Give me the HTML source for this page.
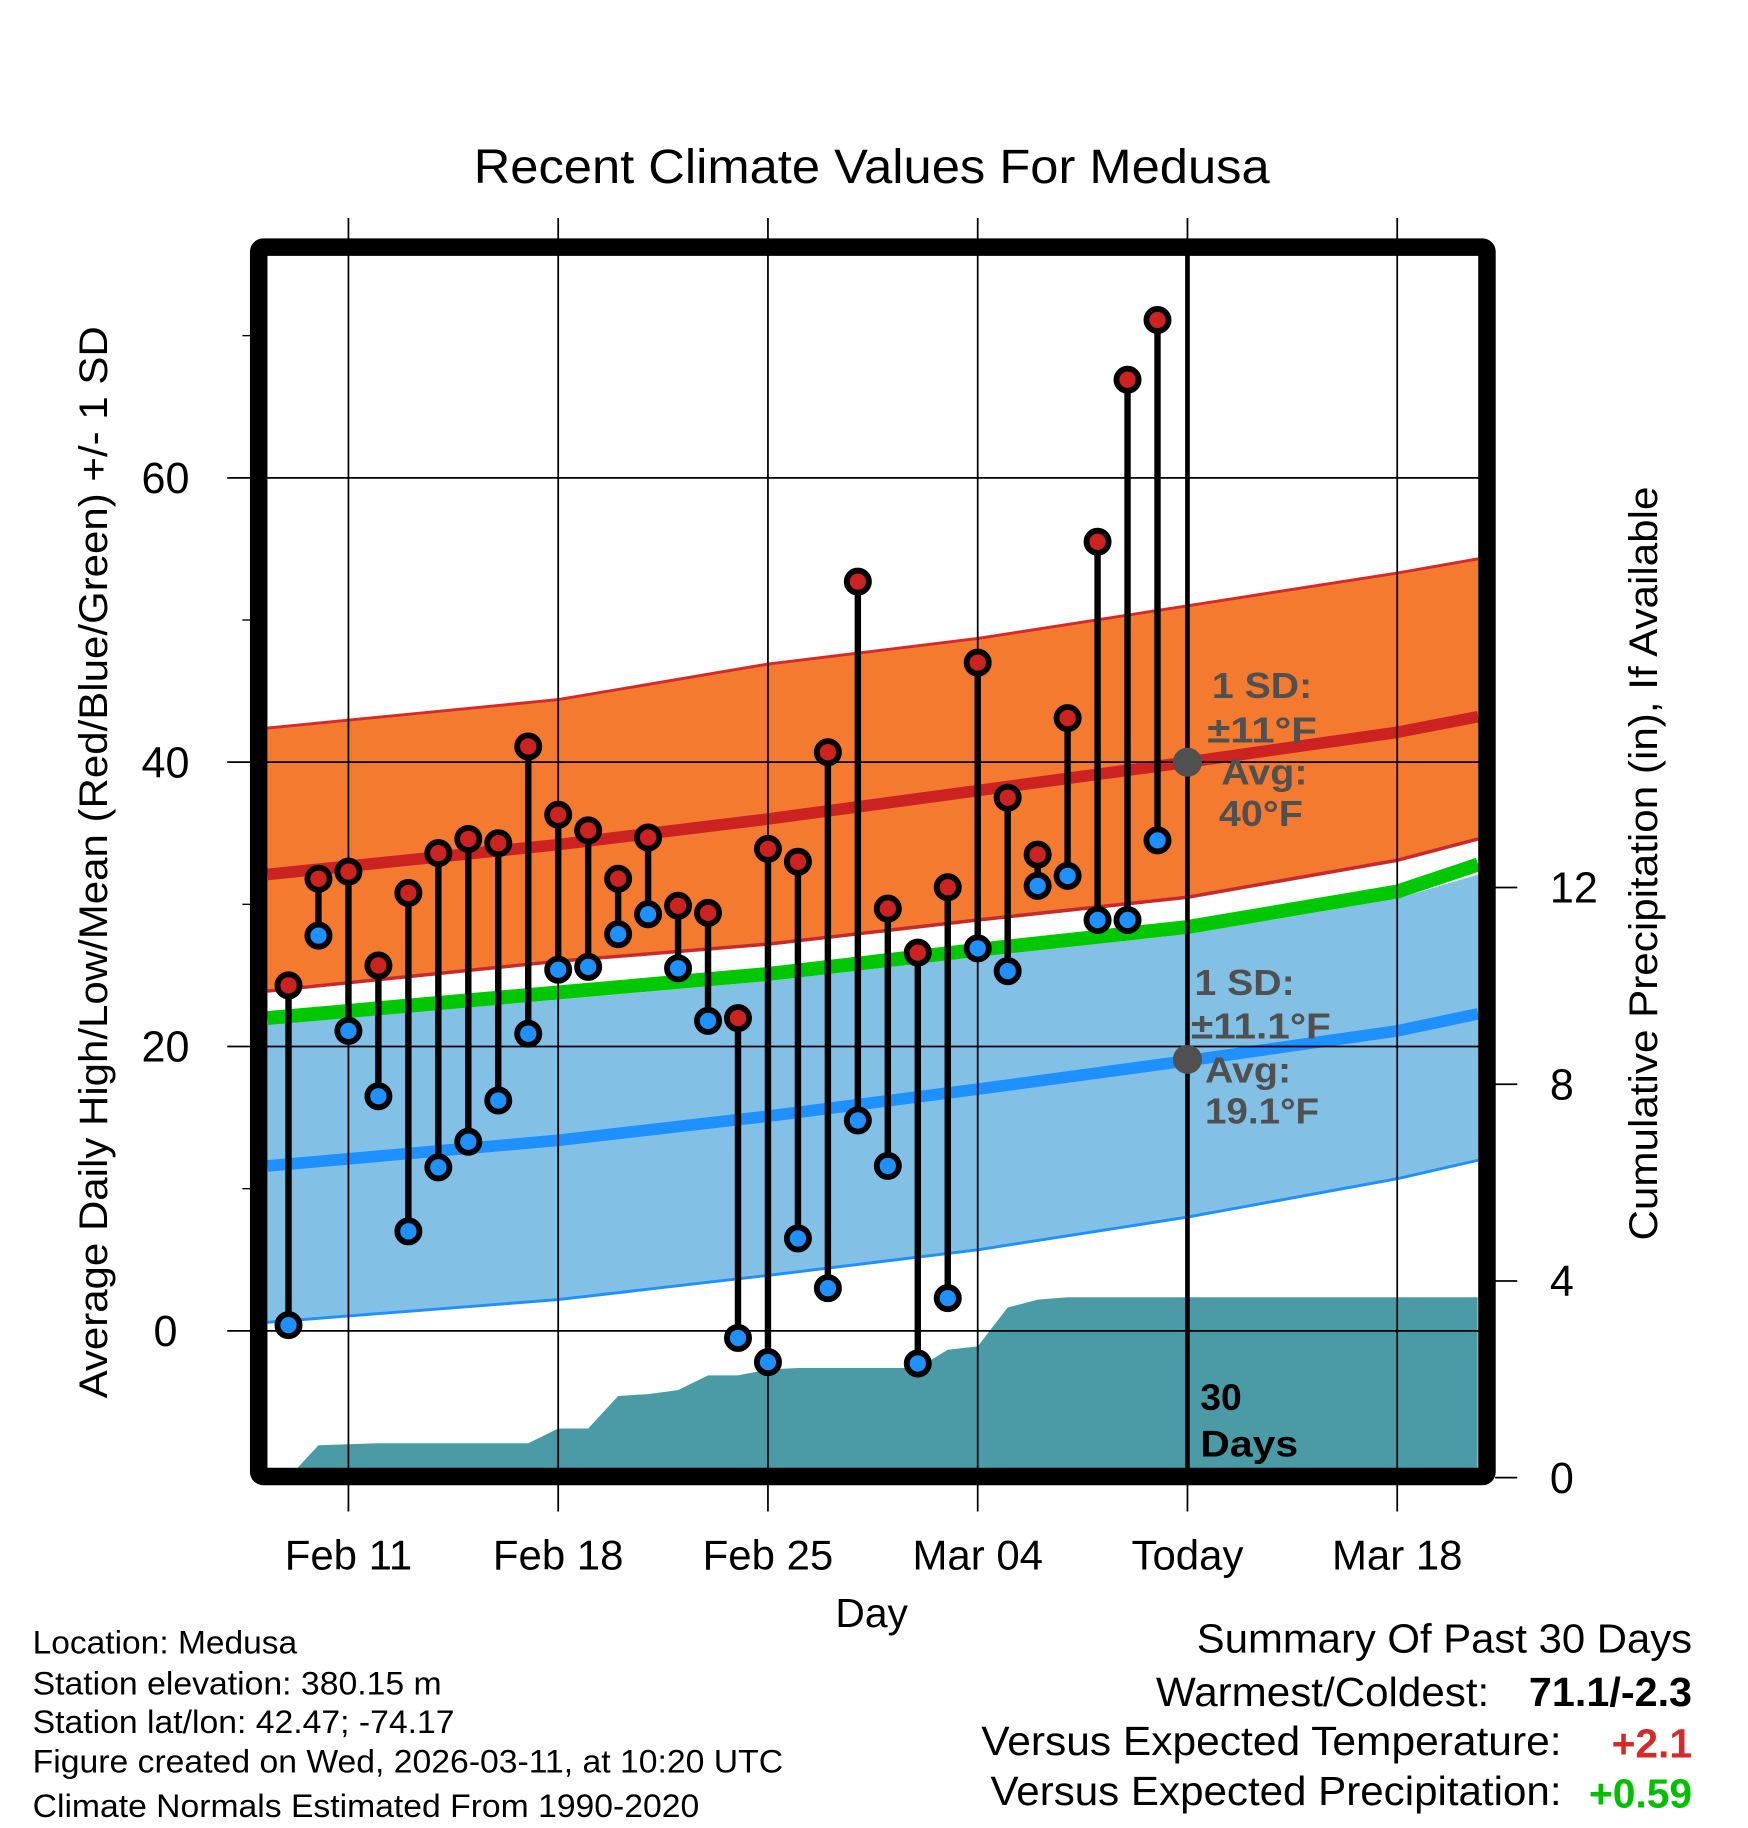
<!DOCTYPE html>
<html><head><meta charset="utf-8"><style>
html,body{margin:0;padding:0;background:#fff;}
svg{display:block;font-family:"Liberation Sans",sans-serif;}
</style></head><body>
<svg id="chart" width="1748" height="1828" viewBox="0 0 1500 1568.6" xmlns="http://www.w3.org/2000/svg">
<rect width="1500" height="1568.6" fill="#fff"/>
<text x="748" y="157" font-size="41" text-anchor="middle" textLength="683" lengthAdjust="spacingAndGlyphs">Recent Climate Values For Medusa</text>
<g id="bands"></g>
<g id="precip"></g>
<g id="grid"></g>
<g id="marks"></g>
<g id="annot"></g>
<g id="frame"></g>
<g id="axes"></g>
<text x="748" y="1396" font-size="35" text-anchor="middle">Day</text>
<text transform="translate(92,740) rotate(-90)" font-size="34" text-anchor="middle" textLength="920" lengthAdjust="spacingAndGlyphs">Average Daily High/Low/Mean (Red/Blue/Green) +/- 1 SD</text>
<text transform="translate(1422,741) rotate(-90)" font-size="34" text-anchor="middle" textLength="647" lengthAdjust="spacingAndGlyphs">Cumulative Precipitation (in), If Available</text>
<g font-size="28">
<text x="28" y="1419" textLength="227" lengthAdjust="spacingAndGlyphs">Location: Medusa</text>
<text x="28" y="1454" textLength="351" lengthAdjust="spacingAndGlyphs">Station elevation: 380.15 m</text>
<text x="28" y="1487" textLength="362" lengthAdjust="spacingAndGlyphs">Station lat/lon: 42.47; -74.17</text>
<text x="28" y="1521" textLength="644" lengthAdjust="spacingAndGlyphs">Figure created on Wed, 2026-03-11, at 10:20 UTC</text>
<text x="28" y="1559" textLength="572" lengthAdjust="spacingAndGlyphs">Climate Normals Estimated From 1990-2020</text>
</g>
<g font-size="35" text-anchor="end">
<text x="1452" y="1418" textLength="425" lengthAdjust="spacingAndGlyphs">Summary Of Past 30 Days</text>
<text x="1278" y="1464" textLength="286" lengthAdjust="spacingAndGlyphs">Warmest/Coldest:</text>
<text x="1452" y="1464" font-weight="bold" textLength="140" lengthAdjust="spacingAndGlyphs">71.1/-2.3</text>
<text x="1340" y="1506" textLength="498" lengthAdjust="spacingAndGlyphs">Versus Expected Temperature:</text>
<text x="1452" y="1508" font-weight="bold" fill="#d42a2a">+2.1</text>
<text x="1340" y="1549" textLength="490" lengthAdjust="spacingAndGlyphs">Versus Expected Precipitation:</text>
<text x="1452" y="1551" font-weight="bold" fill="#00c000">+0.59</text>
</g>
</svg>
<script>
// Normals (days relative to Feb 11)
const normDays = [-2.7, 7, 14, 21, 28, 35, 37.7];
const highMean = [32.1, 34.2, 36.0, 38.0, 40.0, 42.1, 43.2];
const highUpper = [42.4, 44.4, 46.9, 48.7, 51.0, 53.3, 54.3];
const highLower = [23.9, 26.0, 27.2, 28.9, 30.5, 33.1, 34.6];
const meanLine = [22.0, 23.8, 25.1, 26.8, 28.4, 30.9, 32.8];
const lowMean = [11.6, 13.4, 15.1, 17.0, 19.0, 21.1, 22.3];
const lowUpper = [21.6, 23.3, 24.6, 26.3, 27.9, 30.4, 32.1];
const lowLower = [0.6, 2.2, 3.9, 5.7, 8.0, 10.7, 12.0];
// Observed (days -2 .. 27)
const highs = [24.3,31.8,32.3,25.7,30.8,33.6,34.6,34.3,41.1,36.3,35.2,31.8,34.7,29.9,29.4,22.0,33.9,33.0,40.7,52.7,29.7,26.6,31.2,47.0,37.5,33.5,43.1,55.5,66.9,71.1];
const lows = [0.4,27.8,21.1,16.5,7.0,11.5,13.3,16.2,20.9,25.4,25.6,27.9,29.3,25.5,21.8,-0.5,-2.2,6.5,3.0,14.8,11.6,-2.3,2.3,26.9,25.3,31.3,32.0,28.9,28.9,34.5];
const precip = [0,0.66,0.68,0.7,0.7,0.7,0.7,0.7,0.7,1.0,1.0,1.66,1.7,1.78,2.08,2.08,2.2,2.23,2.23,2.23,2.23,2.23,2.6,2.67,3.46,3.62,3.67,3.67,3.67,3.67];
const xTickDays = [0, 7, 14, 21, 28, 35];
const xTickLabels = ["Feb 11","Feb 18","Feb 25","Mar 04","Today","Mar 18"];
const yTicks = [0, 20, 40, 60];
const yMinor = [10, 30, 50, 70];
const y2Ticks = [0, 4, 8, 12];

const NS = "http://www.w3.org/2000/svg";
const X = d => 299 + d * 25.714;
const Y = v => 1142 - v * 12.2;
const Y2 = p => 1268 - p * 42.2;
const L = 229, R = 1268, T = 219, B = 1260;
function mk(parent, tag, attrs){const e=document.createElementNS(NS,tag);for(const k in attrs)e.setAttribute(k,attrs[k]);document.getElementById(parent).appendChild(e);return e;}
function line(arr){return normDays.map((d,i)=>X(d)+","+Y(arr[i])).join(" ");}
function band(up,lo){return normDays.map((d,i)=>X(d)+","+Y(up[i])).join(" ")+" "+normDays.slice().reverse().map((d,i)=>X(d)+","+Y(lo[lo.length-1-i])).join(" ");}

let e;
e = mk("bands","polygon",{points:band(lowUpper,lowLower),fill:"#82c0e6",stroke:"none"});


e = mk("bands","polyline",{points:line(lowLower),fill:"none",stroke:"#1e90ff","stroke-width":2.5});


e = mk("bands","polygon",{points:band(highUpper,highLower),fill:"#f47a30",stroke:"none"});


e = mk("bands","polyline",{points:line(highUpper),fill:"none",stroke:"#d42a2a","stroke-width":2.5});


e = mk("bands","polyline",{points:line(highLower),fill:"none",stroke:"#c62a2a","stroke-width":3});


e = mk("bands","polyline",{points:line(meanLine),fill:"none",stroke:"#00c800","stroke-width":12});


e = mk("bands","polyline",{points:line(highMean),fill:"none",stroke:"#cc2222","stroke-width":10});


e = mk("bands","polyline",{points:line(lowMean),fill:"none",stroke:"#1e90ff","stroke-width":10});



// precipitation area
let pts = precip.map((p,i)=>X(i-2)+","+Y2(p));
pts.push(R+","+Y2(precip[precip.length-1]));
pts.push(R+","+B); pts.push(X(-2)+","+B);
e = mk("precip","polygon",{points:pts.join(" "),fill:"#4a9ba5"});



// grid
yTicks.forEach(v=>{
  e = mk("grid","line",{x1:195,x2:1283,y1:Y(v),y2:Y(v),stroke:"#000","stroke-width":1.5});
  
  
  e = mk("axes","text",{x:142,y:Y(v)+13,"font-size":37,"text-anchor":"middle"});
  e.textContent = v;
  
  
});
yMinor.forEach(v=>{
  e = mk("axes","line",{x1:208,x2:216,y1:Y(v),y2:Y(v),stroke:"#000","stroke-width":1.2});
  
  
});
y2Ticks.forEach(p=>{
  e = mk("axes","line",{x1:1283,x2:1302,y1:Y2(p),y2:Y2(p),stroke:"#000","stroke-width":1.5});
  
  
  e = mk("axes","text",{x:1330,y:Y2(p)+13,"font-size":37,"text-anchor":"start"});
  e.textContent = p;
  
  
});
xTickDays.forEach((d,i)=>{
  e = mk("grid","line",{x1:X(d),x2:X(d),y1:187,y2:1297,stroke:"#000","stroke-width":1.5});
  
  
  e = mk("axes","text",{x:X(d),y:1347,"font-size":36,"text-anchor":"middle"});
  e.textContent = xTickLabels[i];
  
  
});
e = mk("grid","line",{x1:X(28),x2:X(28),y1:212,y2:B,stroke:"#000","stroke-width":4});



// observations
highs.forEach((h,i)=>{
  const x = X(i-2);
  e = mk("marks","line",{x1:x,x2:x,y1:Y(h),y2:Y(lows[i]),stroke:"#000","stroke-width":5.5});
  
  
});
highs.forEach((h,i)=>{
  const x = X(i-2);
  e = mk("marks","circle",{cx:x,cy:Y(h),r:9.5,fill:"#cc2222",stroke:"#000","stroke-width":5});
  
  
  e = mk("marks","circle",{cx:x,cy:Y(lows[i]),r:9.5,fill:"#1e90ff",stroke:"#000","stroke-width":5});
  
  
});

// annotations
e = mk("annot","circle",{cx:X(28),cy:Y(highMean[4]),r:12.5,fill:"#505050"});


e = mk("annot","circle",{cx:X(28),cy:Y(19.1),r:12.5,fill:"#505050"});


const ann = [["1 SD:",1040,599,86],["±11°F",1036,637,94],["Avg:",1048,673,74],["40°F",1046,709,72],["1 SD:",1025,854,86],["±11.1°F",1022,891,120],["Avg:",1034,929,74],["19.1°F",1034,964,98]];
ann.forEach(a=>{
  e = mk("annot","text",{x:a[1],y:a[2],"font-size":31,"font-weight":"bold",fill:"#505050",textLength:a[3],lengthAdjust:"spacingAndGlyphs"});
  e.textContent = a[0];
  
  
});
e = mk("annot","text",{x:1030,y:1210,"font-size":32,"font-weight":"bold",fill:"#000"});
e.textContent = "30";


e = mk("annot","text",{x:1030,y:1250,"font-size":32,"font-weight":"bold",fill:"#000",textLength:84,lengthAdjust:"spacingAndGlyphs"});
e.textContent = "Days";



e = mk("frame","rect",{x:222,y:212,width:1054,height:1055,fill:"none",stroke:"#000","stroke-width":15,rx:4});


</script>
</body></html>
